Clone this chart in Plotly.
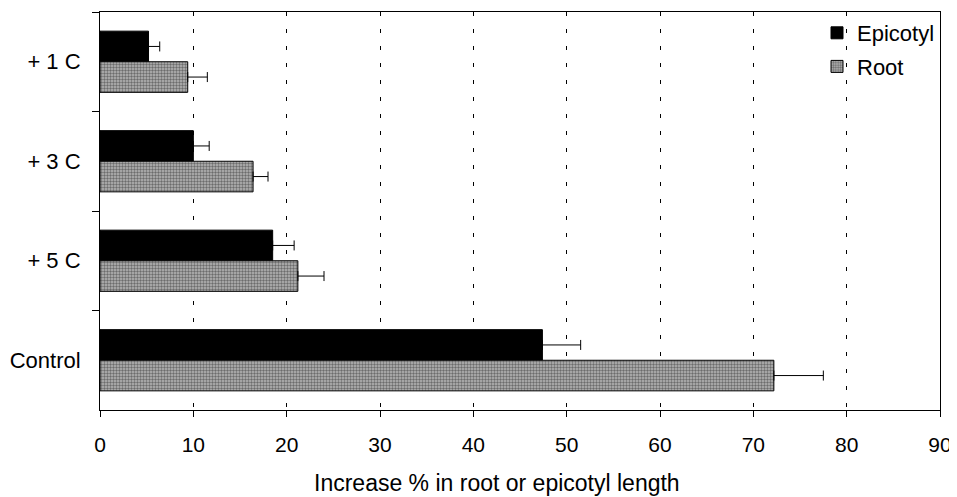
import plotly.graph_objects as go

categories = ["+ 1 C", "+ 3 C", "+ 5 C", "Control"]
epicotyl = [5.2, 10.0, 18.5, 47.4]
epicotyl_err = [1.2, 1.7, 2.3, 4.1]
root = [9.4, 16.4, 21.2, 72.2]
root_err = [2.1, 1.6, 2.8, 5.3]
x_ticks = [0, 10, 20, 30, 40, 50, 60, 70, 80, 90]
x_title = "Increase % in root or epicotyl length"

FONT = "Liberation Sans, Arial, sans-serif"

fig = go.Figure()
fig.add_trace(go.Bar(
    y=categories, x=epicotyl, orientation="h", name="Epicotyl",
    legendgroup="a",
    marker=dict(color="#000000", line=dict(color="#000000", width=1)),
    error_x=dict(type="data", symmetric=False, array=epicotyl_err,
                 arrayminus=[0] * len(epicotyl_err),
                 color="#000000", thickness=1, width=5),
))
fig.add_trace(go.Bar(
    y=categories, x=root, orientation="h", name="Root",
    legendgroup="b",
    marker=dict(color="#b8b8b8", line=dict(color="#000000", width=1),
                pattern=dict(shape=".", fgcolor="#202020", bgcolor="#b8b8b8",
                             size=3, solidity=0.5)),
    error_x=dict(type="data", symmetric=False, array=root_err,
                 arrayminus=[0] * len(root_err),
                 color="#000000", thickness=1, width=5),
))

# the page body has an 8px default margin; compensate so the plot area
# lands at x 100-940, y 12-410 of the window
fig.update_layout(
    width=949, height=489,
    margin=dict(l=92, r=17, t=4, b=87, autoexpand=False),
    paper_bgcolor="white", plot_bgcolor="white",
    barmode="group", bargap=0.385, bargroupgap=0,
    font=dict(family=FONT, size=21, color="#000000"),
    showlegend=True,
    legend=dict(x=1.0, y=1.0, xanchor="right", yanchor="top",
                bgcolor="rgba(0,0,0,0)", borderwidth=0,
                font=dict(size=22), traceorder="grouped",
                tracegroupgap=2, itemwidth=30),
    xaxis=dict(
        range=[0, 90], tickvals=x_ticks, ticktext=[str(v) for v in x_ticks],
        showgrid=True, gridcolor="#000000", gridwidth=1, griddash="4px,13px",
        showline=True, linecolor="#000000", linewidth=1, mirror=True,
        ticks="outside", ticklen=6, tickcolor="#000000",
        ticklabelstandoff=10, automargin=False,
        zeroline=False,
        tickfont=dict(size=21),
    ),
    yaxis=dict(
        categoryorder="array", categoryarray=categories, autorange="reversed",
        showline=True, linecolor="#000000", linewidth=1, mirror=True,
        ticks="outside", ticklen=7, tickcolor="#000000", tickson="boundaries",
        ticklabelstandoff=14, automargin=False,
        showgrid=False, zeroline=False,
        tickfont=dict(size=22),
    ),
    annotations=[dict(
        text=x_title, xref="paper", yref="paper",
        x=(497 - 100) / 840, y=-(483 - 410) / 398,
        xanchor="center", yanchor="middle", showarrow=False,
        font=dict(size=23, family=FONT, color="#000000"),
    )],
)

fig.write_html("out.html")
